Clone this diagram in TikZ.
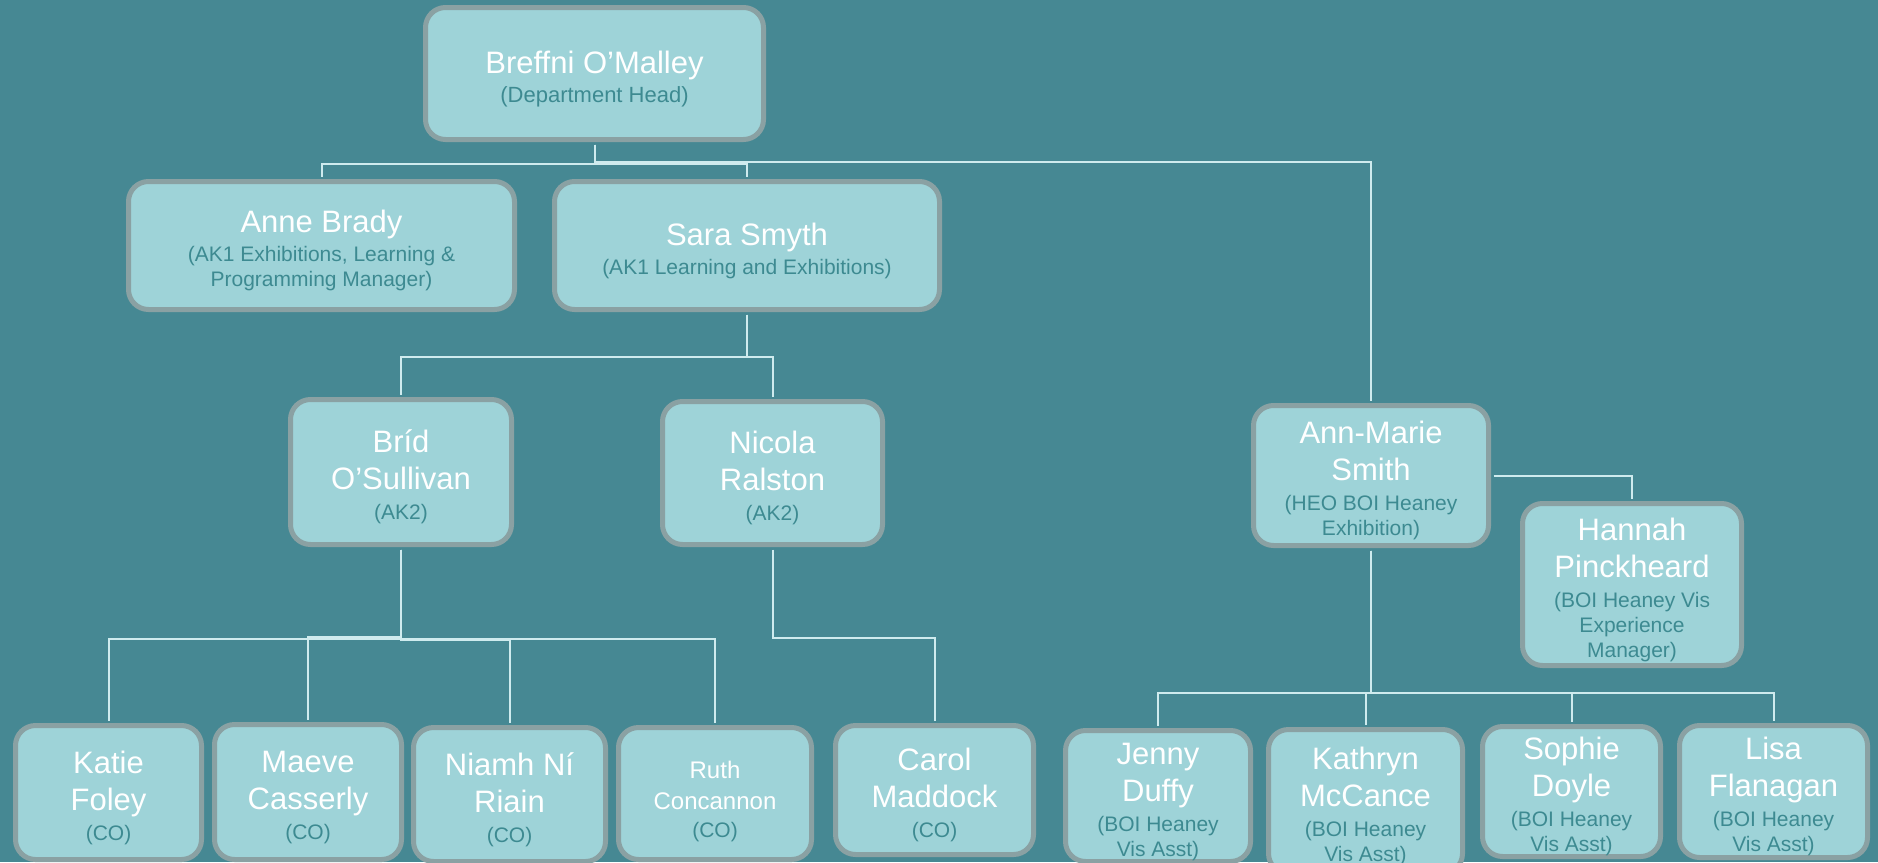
\documentclass[tikz,border=0pt]{standalone}
\usepackage{fontspec}
\setmainfont{Liberation Sans}
\definecolor{bg}{HTML}{468893}
\definecolor{boxc}{HTML}{9ED3D8}
\definecolor{bordc}{HTML}{8AA1A3}
\definecolor{linec}{HTML}{CFEBEE}
\definecolor{subc}{HTML}{3D8A91}
\newcommand\ts{\rule{0pt}{33pt}}
\newcommand\rl[1]{{\fontsize{21}{25}\selectfont\color{subc}#1}}
\newcommand\rlb[1]{{\fontsize{22}{26}\selectfont\color{subc}#1}}
\tikzset{
  box/.style={draw=bordc, line width=5pt, fill=boxc, rounded corners=20pt,
    inner sep=0pt, align=center, text=white, font=\fontsize{31}{37}\selectfont},
  link/.style={draw=linec, line width=2pt, shorten <=2.5pt, shorten >=2.5pt}
}
\begin{document}
\begin{tikzpicture}[x=1pt,y=-1pt]
\useasboundingbox (0,0) rectangle (1878,862);
\fill[bg] (0,0) rectangle (1878,862);
\clip (0,0) rectangle (1878,862);
% nodes
\node[box, minimum width=338pt, minimum height=132pt] (breffni) at (594.5,73.5)
  {\ts Breffni O’Malley\\[-8pt]\rlb{(Department Head)}};
\node[box, minimum width=386pt, minimum height=128pt] (anne) at (321.5,245.5)
  {\ts Anne Brady\\[-8pt]\rl{(AK1 Exhibitions, Learning \&}\\[-12pt]\rl{Programming Manager)}};
\node[box, minimum width=385pt, minimum height=128pt] (sara) at (747,245.5)
  {\ts Sara Smyth\\[-8pt]\rl{(AK1 Learning and Exhibitions)}};
\node[box, minimum width=221pt, minimum height=145pt] (brid) at (401,472)
  {\ts Bríd\\O’Sullivan\\[-7pt]\rl{(AK2)}};
\node[box, minimum width=220pt, minimum height=143pt] (nicola) at (772.5,473)
  {\ts Nicola\\Ralston\\[-7pt]\rl{(AK2)}};
\node[box, minimum width=235pt, minimum height=140pt] (annmarie) at (1371,475.5)
  {\ts Ann-Marie\\Smith\\[-7pt]\rl{(HEO BOI Heaney}\\[-12pt]\rl{Exhibition)}};
\node[box, minimum width=219pt, minimum height=162pt] (hannah) at (1632,584.5)
  {\ts Hannah\\Pinckheard\\[-7pt]\rl{(BOI Heaney Vis}\\[-12pt]\rl{Experience}\\[-12pt]\rl{Manager)}};
\node[box, minimum width=186pt, minimum height=134pt] (katie) at (108.5,792.5)
  {\ts Katie\\Foley\\[-7pt]\rl{(CO)}};
\node[box, minimum width=187pt, minimum height=135pt] (maeve) at (308,792)
  {\ts Maeve\\Casserly\\[-7pt]\rl{(CO)}};
\node[box, minimum width=192pt, minimum height=134pt] (niamh) at (509.5,794.5)
  {\ts Niamh Ní\\Riain\\[-7pt]\rl{(CO)}};
\node[box, minimum width=193pt, minimum height=132pt] (ruth) at (715,793.5)
  {\ts{\fontsize{24}{31}\selectfont Ruth}\\[-6pt]{\fontsize{24}{31}\selectfont Concannon}\\[-9pt]\rl{(CO)}};
\node[box, minimum width=198pt, minimum height=129pt] (carol) at (934.5,790)
  {\ts Carol\\Maddock\\[-7pt]\rl{(CO)}};
\node[box, minimum width=185pt, minimum height=131pt] (jenny) at (1158,796)
  {\ts Jenny\\Duffy\\[-7pt]\rl{(BOI Heaney}\\[-12pt]\rl{Vis Asst)}};
\node[box, minimum width=194pt, minimum height=144pt] (kathryn) at (1365.5,801.5)
  {\ts Kathryn\\McCance\\[-7pt]\rl{(BOI Heaney}\\[-12pt]\rl{Vis Asst)}};
\node[box, minimum width=178pt, minimum height=130pt] (sophie) at (1571.5,791.5)
  {\ts Sophie\\Doyle\\[-7pt]\rl{(BOI Heaney}\\[-12pt]\rl{Vis Asst)}};
\node[box, minimum width=188pt, minimum height=132pt] (lisa) at (1773.5,791.5)
  {\ts Lisa\\Flanagan\\[-7pt]\rl{(BOI Heaney}\\[-12pt]\rl{Vis Asst)}};
% connectors
\draw[link] (breffni.south) -- ++(0,21.5) -| (anne.north);
\draw[link] (breffni.south) -- ++(0,21.5) -| (sara.north);
\draw[link] (breffni.south) -- ++(0,19.5) -| (annmarie.north);
\draw[link] (sara.south) -- ++(0,44.5) -| (brid.north);
\draw[link] (sara.south) -- ++(0,44.5) -| (nicola.north);
\draw[link] (brid.south) -- ++(0,91.5) -| (katie.north);
\draw[link] (brid.south) -- ++(0,90) -| (maeve.north);
\draw[link] (brid.south) -- ++(0,92.5) -| (niamh.north);
\draw[link] (brid.south) -- ++(0,91.5) -| (ruth.north);
\draw[link] (nicola.south) -- ++(0,90.5) -| (carol.north);
\draw[link] (annmarie.east) -| (hannah.north);
\draw[link] (annmarie.south) -- ++(0,144.5) -| (jenny.north);
\draw[link] (annmarie.south) -- ++(0,144.5) -| (kathryn.north);
\draw[link] (annmarie.south) -- ++(0,144.5) -| (sophie.north);
\draw[link] (annmarie.south) -- ++(0,144.5) -| (lisa.north);
\end{tikzpicture}
\end{document}
